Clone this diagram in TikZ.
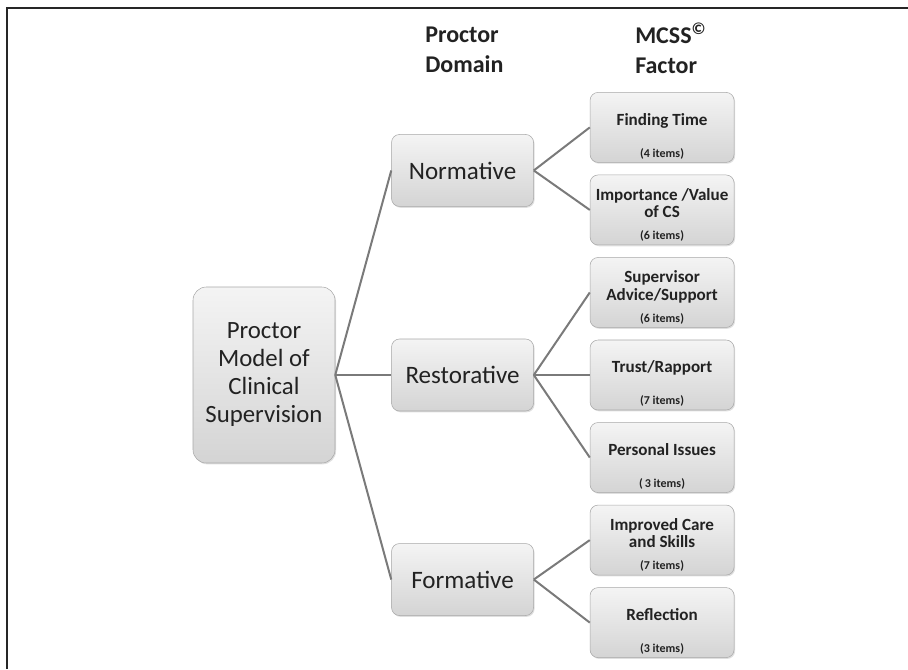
\documentclass[tikz,border=0pt]{standalone}
\usepackage{fontspec}
\setmainfont{Carlito}
\usepackage{tikz}
\usetikzlibrary{positioning,shadows}
\definecolor{boxtop}{RGB}{244,244,244}
\definecolor{boxbot}{RGB}{212,212,212}
\definecolor{boxline}{RGB}{168,168,168}
\definecolor{linkgray}{RGB}{122,122,122}
\definecolor{inkgray}{RGB}{34,34,34}
\newcommand{\itm}[1]{{\fontsize{9}{10}\selectfont(#1 items)}}
\newcommand{\shortfac}[2]{\parbox[c][46pt][b]{104pt}{\centering #1\\[11pt]\itm{#2}}}
\newcommand{\longfac}[3]{\parbox[c][46pt][b]{104pt}{\centering #1\\#2\\[3.5pt]\itm{#3}}}
\tikzset{
  box/.style={rectangle, rounded corners=6pt, draw=boxline, top color=boxtop, bottom color=boxbot,
              drop shadow={opacity=0.25, shadow xshift=0.8pt, shadow yshift=-1pt},
              text=inkgray, align=center, inner sep=2pt},
  rootbox/.style={box, rounded corners=10pt, minimum width=106.5pt, minimum height=132pt,
                  font=\fontsize{18.6}{21}\selectfont},
  dombox/.style={box, minimum width=106.5pt, minimum height=54pt,
                 font=\fontsize{18.8}{21}\selectfont},
  facbox/.style={box, inner sep=0pt, minimum width=108pt, minimum height=52.5pt,
                 font=\bfseries\fontsize{12.8}{13}\selectfont},
  link/.style={draw=linkgray, line width=1.5pt},
  hdr/.style={font=\bfseries\fontsize{18}{22.5}\selectfont, align=left, inner sep=0pt,
              anchor=north west, text=inkgray},
}

\begin{document}
\begin{tikzpicture}[x=0.75pt, y=-0.75pt]
    \useasboundingbox (0,0) rectangle (908,669);

    % frame
    \draw[black!85, line width=1.2pt] (7,669) -- (7,8) -- (908,8);

    % column headers
    \node[hdr] (hdom) at (425,27) {Proctor\\Domain};
    \node[hdr] (hfac) at (635,27) {MCSS\smash{\textsuperscript{©}}\\Factor};

    % root
    \node[rootbox] (root) at (264,375) {Proctor\\Model of\\Clinical\\Supervision};

    % Proctor domains
    \node[dombox, right=42pt of root] (rest) {Restorative};
    \node[dombox, above=99pt of rest] (norm) {Normative};
    \node[dombox, below=99pt of rest] (form) {Formative};

    % MCSS factors
    \node[facbox, right=42pt of rest] (trust) {\shortfac{Trust/Rapport}{7}};
    \node[facbox, above=9pt of trust] (advice) {\longfac{Supervisor}{Advice/Support}{6}};
    \node[facbox, above=9pt of advice] (value) {\longfac{Importance /Value}{of CS}{6}};
    \node[facbox, above=9pt of value] (time) {\shortfac{Finding Time}{4}};
    \node[facbox, below=9pt of trust] (issues) {\shortfac{Personal Issues}{\,3}};
    \node[facbox, below=9pt of issues] (care) {\longfac{Improved Care}{and Skills}{7}};
    \node[facbox, below=9pt of care] (refl) {\shortfac{Reflection}{3}};

    % root -> domains
    \foreach \d in {norm,rest,form}
      \draw[link] (root.east) -- (\d.west);

    % domains -> factors
    \foreach \d/\f in {norm/time,norm/value,rest/advice,rest/trust,rest/issues,form/care,form/refl}
      \draw[link] (\d.east) -- (\f.west);
\end{tikzpicture}
\end{document}
